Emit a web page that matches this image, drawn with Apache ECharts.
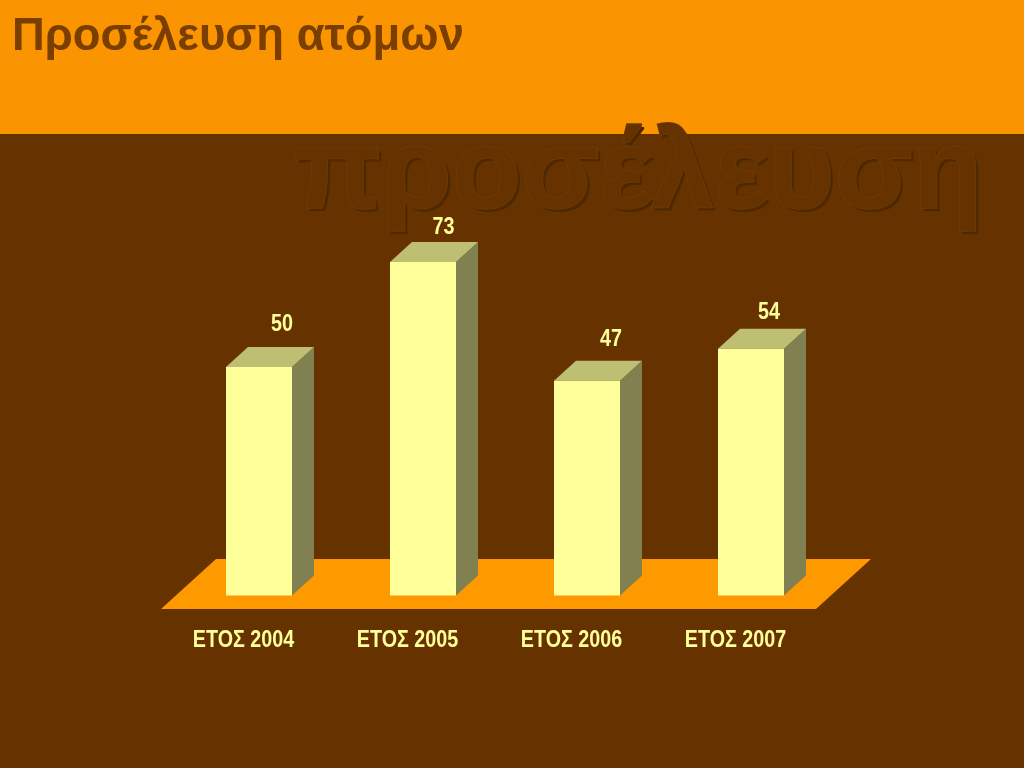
<!DOCTYPE html>
<html><head><meta charset="utf-8">
<style>html,body{margin:0;padding:0;background:#663300}#c{width:1024px;height:768px}</style>
<script src="https://cdn.jsdelivr.net/npm/echarts@6/dist/echarts.min.js"></script>
</head><body><div id="c"></div>
<script>
const categories = ['ΕΤΟΣ 2004','ΕΤΟΣ 2005','ΕΤΟΣ 2006','ΕΤΟΣ 2007'];
const values = [50,73,47,54];
const titleText = 'Προσέλευση ατόμων';
const watermark = 'προσέλευση';
// label nudges relative to the bar top (layout only)
const labelDx = [23,20.5,24,18];
const labelDy = [-42,-34,-41,-36];
const chart = echarts.init(document.getElementById('c'),null,{renderer:'canvas'});
const wmFont = 'bold 114px "Liberation Sans"';
const narrow = 'bold 23.5px "Liberation Sans"';
const sx = 0.84;
chart.setOption({
  animation:false,
  backgroundColor:'#663300',
  title:{text:titleText,left:7,top:10,textStyle:{fontFamily:'Liberation Sans',fontWeight:'bold',fontSize:45.4,color:'#7A3E00'}},
  grid:{left:177,width:656,top:138.5,height:457},
  xAxis:{type:'category',data:categories,axisLine:{show:false},axisTick:{show:false},axisLabel:{show:false}},
  yAxis:{type:'value',min:0,max:100,show:false,splitLine:{show:false}},
  graphic:[
    {type:'rect',z:0,silent:true,shape:{x:0,y:0,width:1024,height:134},style:{fill:'#FA9400'}},
    {type:'text',z:1,silent:true,x:297,y:123,style:{text:watermark,font:wmFont,fill:'#4F2800'}},
    {type:'text',z:1,silent:true,x:294,y:120,style:{text:watermark,font:wmFont,fill:'#663300',stroke:'#6E3C0A',lineWidth:1.5}},
    {type:'polygon',z:1,silent:true,shape:{points:[[161,609],[816,609],[871,559],[216,559]]},style:{fill:'#FF9900'}}
  ],
  series:[{
    type:'custom',
    coordinateSystem:'cartesian2d',
    data:values.map((v,i)=>[i,v]),
    z:5,
    clip:false,
    renderItem:function(params,api){
      const i=api.value(0);
      const top=api.coord([i,api.value(1)]);
      const base=api.coord([i,0]);
      const w=66,dx=22,dy=20;
      const l=top[0]-w/2,r=top[0]+w/2;
      return {type:'group',children:[
        {type:'polygon',shape:{points:[[r,top[1]],[r+dx,top[1]-dy],[r+dx,base[1]-dy],[r,base[1]]]},style:{fill:'#808050'}},
        {type:'polygon',shape:{points:[[l,top[1]],[l+dx,top[1]-dy],[r+dx,top[1]-dy],[r,top[1]]]},style:{fill:'#BFBF73'}},
        {type:'rect',shape:{x:l,y:top[1],width:w,height:base[1]-top[1]},style:{fill:'#FFFF99'}},
        {type:'text',x:top[0]+labelDx[i],y:top[1]+labelDy[i],scaleX:sx,style:{text:String(api.value(1)),fill:'#FFFF99',
          font:narrow,align:'center',verticalAlign:'middle'}},
        {type:'text',x:top[0]-15.5,y:base[1]+45,scaleX:sx,style:{text:categories[i],fill:'#FFFF99',
          font:narrow,align:'center',verticalAlign:'middle'}}
      ]};
    }
  }]
});
</script></body></html>
